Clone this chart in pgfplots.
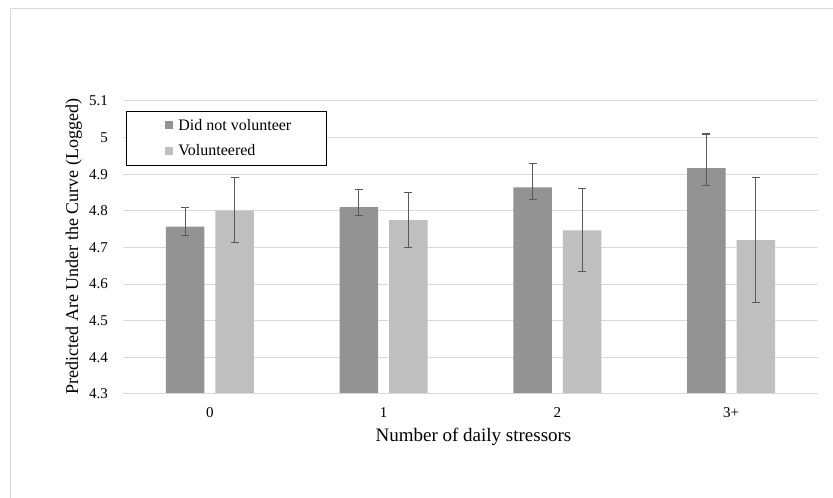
\documentclass[border=0pt]{standalone}
\usepackage{fontspec}
\setmainfont{Liberation Serif}
\usepackage{pgfplots}
\usepackage{pgfplotstable}
\pgfplotsset{compat=1.18}
\definecolor{darkbar}{HTML}{939393}
\definecolor{lightbar}{HTML}{BFBFBF}
\definecolor{gridc}{HTML}{D9D9D9}
\definecolor{errc}{HTML}{595959}
\pgfplotstableread{
x y ep em
0 4.757 0.052 0.025
1 4.810 0.049 0.023
2 4.864 0.066 0.034
3 4.917 0.093 0.048
}\notvol
\pgfplotstableread{
x y ep em
0 4.801 0.089 0.087
1 4.775 0.076 0.076
2 4.747 0.115 0.113
3 4.720 0.171 0.170
}\vol
\begin{document}
\begin{tikzpicture}[x=1bp,y=1bp]
\useasboundingbox (0,0) rectangle (833,498);
\draw[gridc, line width=1bp] (10,-20) -- (10,489) -- (860,489);
\begin{axis}[
  at={(123bp,104bp)}, anchor=south west,
  scale only axis, width=695bp, height=293bp,
  ybar=11bp, bar width=38.5bp,
  xmin=-0.5, xmax=3.5, ymin=4.3, ymax=5.1,
  xtick={0,1,2,3}, xticklabels={0,1,2,3+},
  ytick={4.3,4.4,4.5,4.6,4.7,4.8,4.9,5.0,5.1},
  yticklabels={4.3,4.4,4.5,4.6,4.7,4.8,4.9,5,5.1},
  major tick length=0pt,
  axis line style={draw=none},
  ymajorgrids, grid style={gridc, line width=1bp},
  tick label style={font=\fontsize{15bp}{18bp}\selectfont},
  yticklabel style={inner sep=0pt, xshift=-15bp},
  xticklabel style={inner sep=0pt, yshift=-13bp},
  /pgf/number format/assume math mode=true,
  xlabel={Number of daily stressors},
  ylabel={Predicted Are Under the Curve (Logged)},
  every axis x label/.style={at={(axis description cs:0.5,0)}, anchor=base, yshift=-47.7bp, xshift=3bp, font=\fontsize{19bp}{22bp}\selectfont},
  every axis y label/.style={at={(axis description cs:0,0.5)}, anchor=base, rotate=90, yshift=45bp, xshift=1bp, font=\fontsize{18bp}{22bp}\selectfont},
  legend image code/.code={\path (0bp,0bp) -- (17bp,0bp); \fill[#1] (6bp,-4bp) rectangle (14bp,4bp);},
  legend style={at={(axis description cs:0.0043,0.966)}, anchor=north west,
    draw=black, line width=0.9bp, fill=white,
    font=\fontsize{16bp}{19bp}\selectfont,
    inner xsep=33bp, inner ysep=5.8bp, row sep=9bp,
    cells={anchor=west}},
]
\addplot[fill=darkbar, draw=none,
  error bars/.cd, y dir=both, y explicit,
  error bar style={errc, line width=1.1bp},
  error mark options={errc, rotate=90, mark size=4bp, line width=1.1bp}]
  table[x=x, y=y, y error plus=ep, y error minus=em] {\notvol};
\addlegendentry{Did not volunteer}
\addplot[fill=lightbar, draw=none,
  error bars/.cd, y dir=both, y explicit,
  error bar style={errc, line width=1.1bp},
  error mark options={errc, rotate=90, mark size=4bp, line width=1.1bp}]
  table[x=x, y=y, y error plus=ep, y error minus=em] {\vol};
\addlegendentry{Volunteered}
\draw[gridc, line width=1.6bp] (rel axis cs:0,0) -- (rel axis cs:1,0);
\end{axis}
\end{tikzpicture}
\end{document}
